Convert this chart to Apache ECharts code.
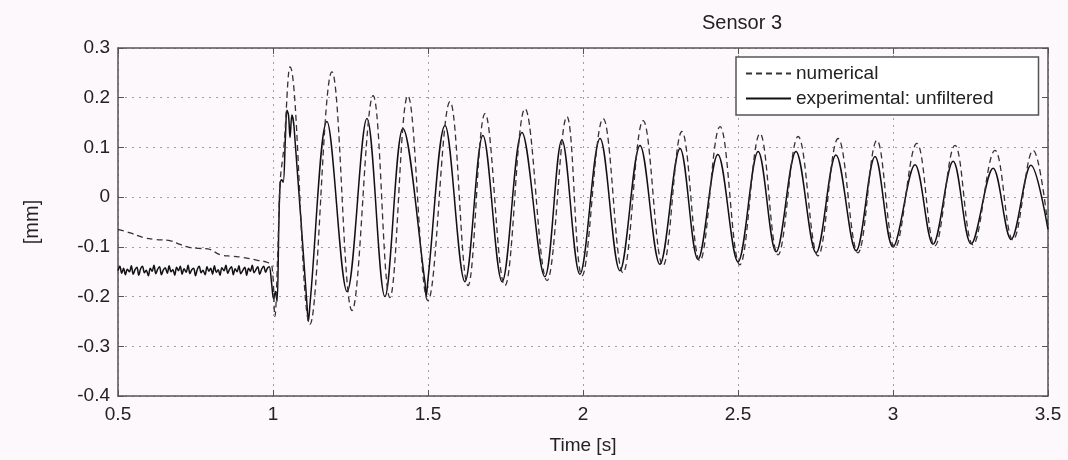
<!DOCTYPE html>
<html>
<head>
<meta charset="utf-8">
<script src="https://cdn.jsdelivr.net/npm/echarts@6/dist/echarts.min.js"></script>
<style>
html,body{margin:0;padding:0;background:#fcf8fc;}
#chart{width:1068px;height:460px;}
</style>
</head>
<body>
<div id="chart"></div>
<script>
// Tick settings
const xTicks = { min: 0.5, max: 3.5, interval: 0.5 };
const yTicks = { min: -0.4, max: 0.3, interval: 0.1 };

// Numerical (dashed) series
const numTime = [0.5, 0.54, 0.58, 0.62, 0.67, 0.70, 0.73, 0.76, 0.79, 0.83,
  0.87, 0.90, 0.95, 0.985, 0.997, 1.006, 1.015, 1.023, 1.035, 1.055,
  1.119, 1.190, 1.255, 1.323, 1.377, 1.435, 1.500, 1.571, 1.629, 1.684,
  1.748, 1.813, 1.884, 1.948, 1.997, 2.065, 2.129, 2.194, 2.258, 2.319,
  2.377, 2.442, 2.506, 2.571, 2.629, 2.694, 2.758, 2.823, 2.887, 2.948,
  3.006, 3.077, 3.135, 3.200, 3.258, 3.329, 3.387, 3.452, 3.5];
const numValue = [-0.065, -0.072, -0.081, -0.085, -0.088, -0.095, -0.101, -0.103, -0.104, -0.116,
  -0.119, -0.121, -0.127, -0.132, -0.14, -0.24, -0.12, 0.03, 0.10, 0.262,
  -0.256, 0.252, -0.228, 0.204, -0.202, 0.204, -0.208, 0.192, -0.178, 0.168,
  -0.178, 0.178, -0.168, 0.162, -0.158, 0.158, -0.152, 0.154, -0.138, 0.132,
  -0.128, 0.142, -0.136, 0.128, -0.116, 0.122, -0.118, 0.118, -0.112, 0.114,
  -0.102, 0.108, -0.098, 0.104, -0.096, 0.094, -0.086, 0.094, -0.06];

// Experimental (solid, unfiltered) series
const expTime = [0.500, 0.506, 0.512, 0.518, 0.524, 0.530, 0.537, 0.543, 0.549, 0.555,
  0.561, 0.567, 0.573, 0.579, 0.585, 0.591, 0.598, 0.604, 0.610, 0.616,
  0.622, 0.628, 0.634, 0.640, 0.646, 0.652, 0.659, 0.665, 0.671, 0.677,
  0.683, 0.689, 0.695, 0.701, 0.707, 0.713, 0.720, 0.726, 0.732, 0.738,
  0.744, 0.750, 0.756, 0.762, 0.768, 0.774, 0.781, 0.787, 0.793, 0.799,
  0.805, 0.811, 0.817, 0.823, 0.829, 0.835, 0.842, 0.848, 0.854, 0.860,
  0.866, 0.872, 0.878, 0.884, 0.890, 0.896, 0.903, 0.909, 0.915, 0.921,
  0.927, 0.933, 0.939, 0.945, 0.951, 0.957, 0.964, 0.970, 0.976, 0.982,
  0.988, 0.995, 1.002, 1.008, 1.013, 1.019, 1.023, 1.028, 1.033, 1.040,
  1.045, 1.050, 1.055, 1.061, 1.068, 1.110, 1.114, 1.120, 1.174, 1.239,
  1.303, 1.361, 1.419, 1.490, 1.494, 1.500, 1.555, 1.619, 1.677, 1.739,
  1.803, 1.877, 1.932, 1.990, 2.055, 2.119, 2.184, 2.248, 2.313, 2.371,
  2.435, 2.500, 2.565, 2.623, 2.687, 2.752, 2.816, 2.881, 2.942, 3.000,
  3.071, 3.129, 3.194, 3.252, 3.323, 3.381, 3.445, 3.500];
const expValue = [-0.148, -0.139, -0.153, -0.143, -0.156, -0.145, -0.150, -0.138, -0.155, -0.146,
  -0.141, -0.157, -0.144, -0.139, -0.152, -0.147, -0.158, -0.143, -0.149, -0.137,
  -0.154, -0.145, -0.140, -0.156, -0.147, -0.142, -0.153, -0.138, -0.150, -0.146,
  -0.157, -0.141, -0.148, -0.139, -0.155, -0.144, -0.151, -0.137, -0.154, -0.146,
  -0.143, -0.158, -0.145, -0.139, -0.152, -0.147, -0.156, -0.140, -0.149, -0.143,
  -0.155, -0.138, -0.151, -0.146, -0.157, -0.142, -0.148, -0.137, -0.153, -0.145,
  -0.140, -0.156, -0.144, -0.150, -0.138, -0.154, -0.147, -0.141, -0.157, -0.143,
  -0.149, -0.137, -0.152, -0.146, -0.140, -0.155, -0.144, -0.139, -0.151, -0.143,
  -0.140, -0.170, -0.205, -0.190, -0.210, -0.050, 0.025, 0.035, 0.030, 0.120,
  0.175, 0.165, 0.120, 0.165, 0.140, -0.220, -0.250, -0.210, 0.152, -0.190,
  0.158, -0.200, 0.138, -0.170, -0.200, -0.165, 0.144, -0.170, 0.124, -0.170,
  0.130, -0.160, 0.115, -0.155, 0.118, -0.148, 0.104, -0.135, 0.098, -0.125,
  0.086, -0.130, 0.092, -0.110, 0.092, -0.112, 0.085, -0.108, 0.082, -0.100,
  0.065, -0.095, 0.072, -0.094, 0.058, -0.085, 0.064, -0.065];

const zip = (a, b) => a.map((t, i) => [t, b[i]]);

const chart = echarts.init(document.getElementById('chart'), null, { renderer: 'canvas' });
const FONT = 'Liberation Sans, Arial, sans-serif';
const axisLineStyle = { color: '#555', width: 1.5 };
const gridLine = { show: true, lineStyle: { color: '#a0a0a0', type: [2, 5], width: 1 } };
const tick = { show: true, inside: true, length: 6, lineStyle: { color: '#555' } };

chart.setOption({
  backgroundColor: '#fcf8fc',
  animation: false,
  title: {
    text: 'Sensor 3', left: 697, top: 8,
    textStyle: { fontFamily: FONT, fontSize: 20, fontWeight: 'normal', color: '#222' }
  },
  legend: {
    orient: 'vertical', left: 736, top: 57,
    data: ['numerical', 'experimental: unfiltered'],
    itemWidth: 45, itemHeight: 14, itemGap: 6,
    padding: [7, 45, 7, 9],
    borderColor: '#555', borderWidth: 1.5, backgroundColor: '#fff',
    itemStyle: { opacity: 0 },
    textStyle: { fontFamily: FONT, fontSize: 19, color: '#222' }
  },
  grid: { left: 118, right: 20, top: 48, bottom: 60, containLabel: false },
  xAxis: [{
    type: 'value', position: 'bottom', min: xTicks.min, max: xTicks.max, interval: xTicks.interval,
    axisLine: { show: true, onZero: false, lineStyle: axisLineStyle },
    axisTick: tick,
    axisLabel: { fontFamily: FONT, fontSize: 19, color: '#222', margin: 9 },
    splitLine: gridLine,
    name: 'Time [s]', nameLocation: 'middle', nameGap: 40,
    nameTextStyle: { fontFamily: FONT, fontSize: 19, color: '#222' }
  }, {
    type: 'value', position: 'top', min: xTicks.min, max: xTicks.max, interval: xTicks.interval,
    axisLine: { show: true, onZero: false, lineStyle: axisLineStyle },
    axisTick: tick,
    axisLabel: { show: false }, splitLine: { show: false }
  }],
  yAxis: [{
    type: 'value', position: 'left', min: yTicks.min, max: yTicks.max, interval: yTicks.interval,
    axisLine: { show: true, onZero: false, lineStyle: axisLineStyle },
    axisTick: tick,
    axisLabel: { fontFamily: FONT, fontSize: 19, color: '#222', margin: 8 },
    splitLine: gridLine,
    name: '[mm]', nameLocation: 'middle', nameGap: 76, nameRotate: 90,
    nameTextStyle: { fontFamily: FONT, fontSize: 20, color: '#222' }
  }, {
    type: 'value', position: 'right', min: yTicks.min, max: yTicks.max, interval: yTicks.interval,
    axisLine: { show: true, onZero: false, lineStyle: axisLineStyle },
    axisTick: tick,
    axisLabel: { show: false }, splitLine: { show: false }
  }],
  series: [{
    name: 'experimental: unfiltered', type: 'line', xAxisIndex: 0, yAxisIndex: 0,
    data: zip(expTime, expValue), symbol: 'none', showSymbol: false, smooth: 0.35,
    color: '#111', lineStyle: { color: '#111', width: 1.5, type: 'solid' }
  }, {
    name: 'numerical', type: 'line', xAxisIndex: 0, yAxisIndex: 0,
    data: zip(numTime, numValue), symbol: 'none', showSymbol: false, smooth: 0.4,
    color: '#333', lineStyle: { color: '#333', width: 1.3, type: [6, 4] }
  }]
});
</script>
</body>
</html>
